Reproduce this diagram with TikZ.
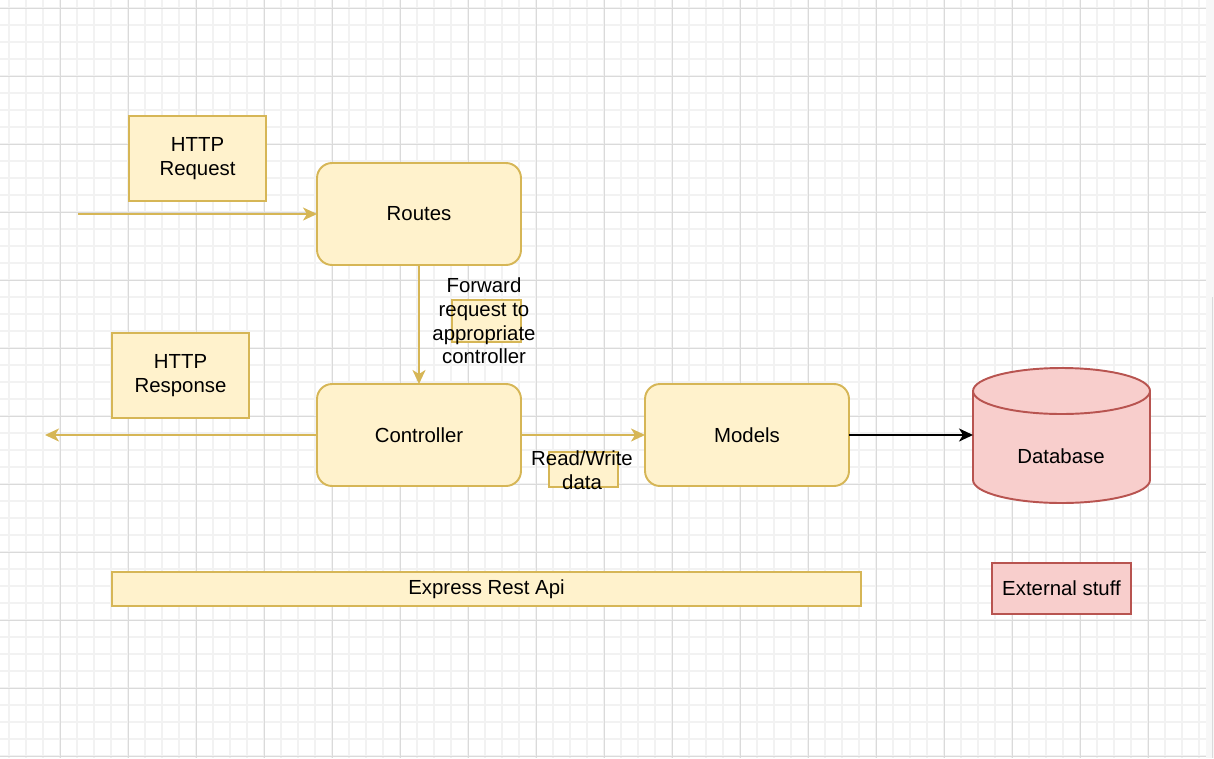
\documentclass[tikz,border=0pt]{standalone}
\usepackage{fontspec}
\setmainfont{Liberation Sans}
\usetikzlibrary{arrows.meta}
\definecolor{paleyellow}{HTML}{FFF2CC}
\definecolor{goldline}{HTML}{D6B656}
\definecolor{palered}{HTML}{F8CECC}
\definecolor{redline}{HTML}{B85450}
\definecolor{minorgrid}{HTML}{F2F2F2}
\definecolor{majorgrid}{HTML}{DADADA}
\definecolor{stripgray}{HTML}{F7F7F7}

\begin{document}
\begin{tikzpicture}[x=0.02cm, y=-0.02cm,
  every node/.style={font=\fontsize{11.6}{13.4}\selectfont, align=center, inner sep=0pt, outer sep=0pt},
  note/.style={draw=goldline, fill=paleyellow, line width=1.1pt},
  block/.style={note, rounded corners=0.3cm, minimum width=4.08cm, minimum height=2.04cm},
  httpbox/.style={note, minimum width=2.74cm, minimum height=1.7cm},
  tagbox/.style={note, minimum width=1.38cm},
  flow/.style={draw=goldline, line width=1.2pt, -{Stealth[length=0.28cm, width=0.26cm, inset=0.08cm]}},
  dbline/.style={draw=black, line width=1.2pt, -{Stealth[length=0.28cm, width=0.26cm, inset=0.08cm]}}]
\useasboundingbox (0,0) rectangle (1214,758);
\fill[white] (0,0) rectangle (1214,758);

% grid
\foreach \i in {0,...,70} \draw[minorgrid, line width=0.85pt] ({9+17*\i},0) -- ({9+17*\i},758);
\foreach \j in {0,...,44} \draw[minorgrid, line width=0.85pt] (0,{8+17*\j}) -- (1206,{8+17*\j});
\foreach \i in {0,...,16} \draw[majorgrid, line width=0.55pt] ({60+68*\i},0) -- ({60+68*\i},758);
\foreach \j in {0,...,11} \draw[majorgrid, line width=0.55pt] (0,{8+68*\j}) -- (1206,{8+68*\j});
\fill[stripgray] (1206,0) rectangle (1214,758);
\draw[majorgrid, line width=0.55pt] (1212,297) -- (1212,758);

% api side
\node[httpbox] (req) at (197.5,158.5) {HTTP\\Request};
\node[httpbox] (resp) at (180.5,375.5) {HTTP\\Response};
\node[block] (routes) at (419,214) {Routes};
\node[block] (ctrl) at (419,435) {Controller};
\node[block] (models) at (747,435) {Models};

\node[tagbox, minimum height=0.84cm] (fwdbox) at (486.5,321) {};
\node (fwd) at (484,321) {Forward\\request to\\appropriate\\controller};
\node[tagbox, minimum height=0.7cm] (rwbox) at (583.5,469.5) {};
\node (rw) at (582,470) {Read/Write\\data};

\node[note, minimum width=14.98cm, minimum height=0.68cm] (api) at (486.5,589) {Express Rest Api};

% external
\fill[palered] (973,391) -- (973,480) arc[start angle=180, end angle=360, x radius=1.77cm, y radius=0.46cm]
  -- (1150,391) arc[start angle=0, end angle=180, x radius=1.77cm, y radius=0.46cm] -- cycle;
\draw[redline, line width=1.1pt] (973,391) -- (973,480) arc[start angle=180, end angle=360, x radius=1.77cm, y radius=0.46cm]
  -- (1150,391) arc[start angle=0, end angle=180, x radius=1.77cm, y radius=0.46cm]
  (973,391) arc[start angle=180, end angle=360, x radius=1.77cm, y radius=0.46cm];
\node[minimum width=3.54cm, minimum height=2.7cm] (db) at (1061.5,435) {};
\node (dbtext) at (1061,456) {Database};
\node[draw=redline, fill=palered, line width=1.1pt, minimum width=2.78cm, minimum height=1.02cm] (ext) at (1061.5,588.5) {External stuff};

% connectors
\coordinate (reqin) at (78,214);
\coordinate (respout) at (45,435);
\draw[flow] (reqin) -- (routes);
\draw[flow] (routes) -- (ctrl);
\draw[flow] (ctrl) -- (respout);
\draw[flow] (ctrl) -- (models);
\draw[dbline] (models) -- (db);
\end{tikzpicture}
\end{document}
